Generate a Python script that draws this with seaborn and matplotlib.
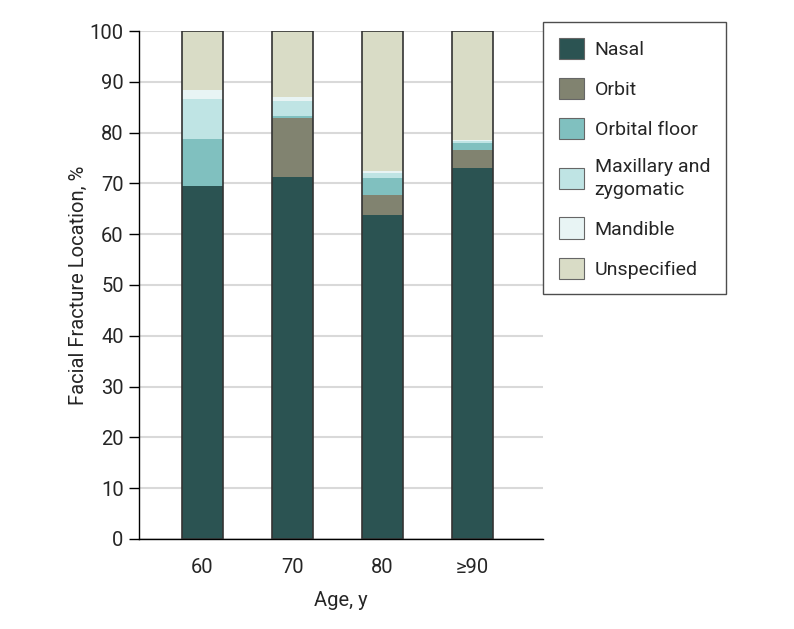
import numpy as np
import pandas as pd
import matplotlib
matplotlib.use("Agg")
import matplotlib.pyplot as plt
from matplotlib.patches import Patch
import seaborn as sns

# --- DATA (% of fractures per age group) ---
ages = ["60", "70", "80", "\u226590"]
locations = ["Nasal", "Orbit", "Orbital floor", "Maxillary and\nzygomatic", "Mandible", "Unspecified"]
nasal = [69.4, 71.2, 63.8, 73.1]
orbit = [0.0, 11.6, 4.0, 3.5]
orbital_floor = [9.3, 0.5, 3.3, 1.3]
maxillary = [7.9, 3.0, 1.0, 0.4]
mandible = [1.7, 0.7, 0.3, 0.2]
unspecified = [11.7, 13.0, 27.6, 21.5]

colors = ["#2b5352", "#818370", "#80c0bf", "#bfe4e4", "#e8f4f4", "#d9dcc6"]

series = [nasal, orbit, orbital_floor, maxillary, mandible, unspecified]
df = pd.DataFrame({loc: vals for loc, vals in zip(locations, series)}, index=ages)
cum = df.cumsum(axis=1)

# --- PLOT ---
sns.set_theme(style="white")
plt.rcParams['font.family'] = ['Roboto', 'DejaVu Sans']

fig = plt.figure(figsize=(7.94, 6.29), dpi=100)
ax = fig.add_axes([0.175, 0.1431, 0.509, 0.8076])

# draw cumulative layers from the top down so each segment shows
for loc, col in reversed(list(zip(locations, colors))):
    layer = pd.DataFrame({"Age": ages, "value": cum[loc].values})
    sns.barplot(data=layer, x="Age", y="value", color=col, width=0.455,
                edgecolor="none", linewidth=0, saturation=1, ax=ax, zorder=2)

# outline of each stacked bar
outline = pd.DataFrame({"Age": ages, "value": cum[locations[-1]].values})
sns.barplot(data=outline, x="Age", y="value", fill=False, width=0.455,
            edgecolor="#333333", linewidth=1.2, ax=ax, zorder=3)

ax.set_ylim(0, 100)
ax.set_xlim(-0.7, 3.78)
ax.set_yticks(np.arange(0, 101, 10))
ax.yaxis.grid(True, color="#d9d9d9", linewidth=1.5, zorder=0)
ax.set_axisbelow(True)
for s in ["top", "right"]:
    ax.spines[s].set_visible(False)
for s in ["left", "bottom"]:
    ax.spines[s].set_color("black")
    ax.spines[s].set_linewidth(1.0)
ax.tick_params(axis="y", left=True, length=7, width=1, color="black", labelsize=14.5, pad=4)
ax.tick_params(axis="x", bottom=False, labelsize=14.5, pad=8)
ax.set_ylabel("Facial Fracture Location, %", fontsize=14.5, labelpad=1)
ax.set_xlabel("Age, y", fontsize=14.5, labelpad=10)

handles = [Patch(facecolor=c, edgecolor="#666666", linewidth=0.8, label=l)
           for l, c in zip(locations, colors)]
leg = fig.legend(handles=handles, loc="upper left", bbox_to_anchor=(0.684, 0.965),
                 frameon=True, fancybox=False, edgecolor="#222222", fontsize=14,
                 handlelength=1.3, handleheight=1.3, labelspacing=0.97,
                 borderpad=0.8, handletextpad=0.55, borderaxespad=0)
leg.get_frame().set_linewidth(1.0)
for t in leg.get_texts():
    t.set_linespacing(1.35)

plt.savefig("out.png", dpi=100)
